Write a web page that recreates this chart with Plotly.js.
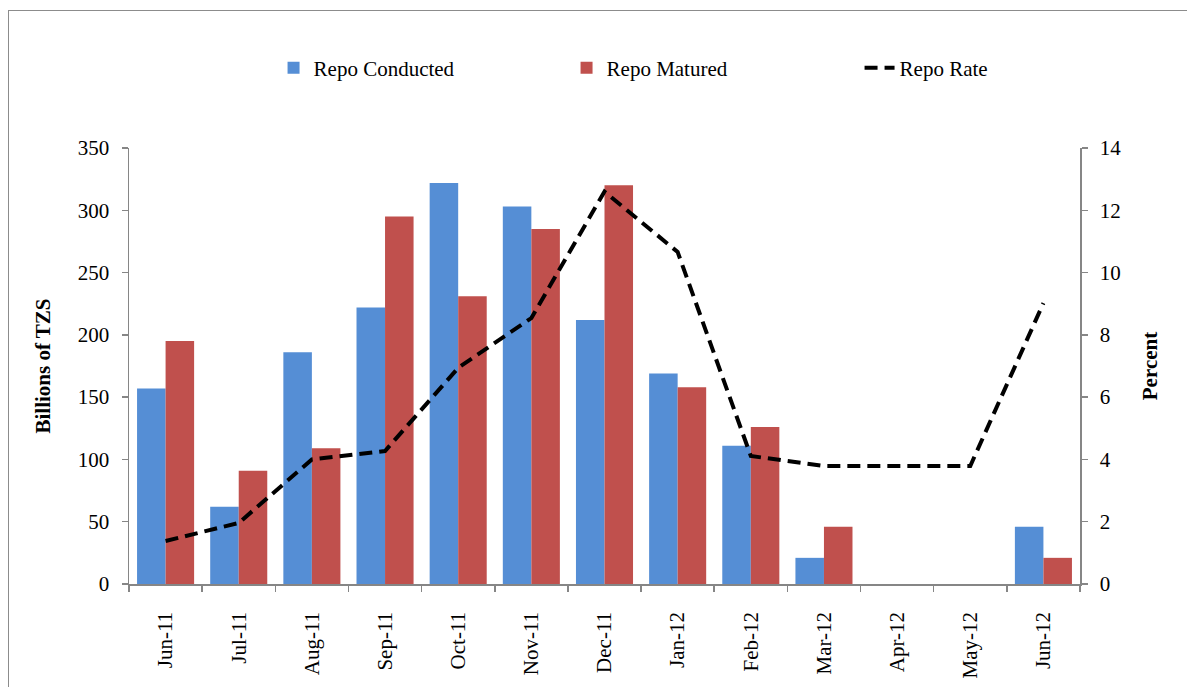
<!DOCTYPE html>
<html>
<head>
<meta charset="utf-8">
<script src="https://cdn.plot.ly/plotly-3.0.1.min.js"></script>
<style>
html,body{margin:0;padding:0;background:#fff;}
#chart{position:absolute;left:0;top:0;width:1187px;height:687px;}
#frame{position:absolute;left:8px;top:10px;width:1200px;height:700px;border-left:1.5px solid #8c8c8c;border-top:1.5px solid #8c8c8c;pointer-events:none;}
</style>
</head>
<body>
<div id="chart"></div>
<div id="frame"></div>
<script>
const months = ["Jun-11","Jul-11","Aug-11","Sep-11","Oct-11","Nov-11","Dec-11","Jan-12","Feb-12","Mar-12","Apr-12","May-12","Jun-12"];
const repoConducted = [157, 62, 186, 222, 322, 303, 212, 169, 111, 21, 0, 0, 46];
const repoMatured   = [195, 91, 109, 295, 231, 285, 320, 158, 126, 46, 0, 0, 21];
const repoRate      = [1.38, 1.96, 4.0, 4.27, 6.94, 8.54, 12.6, 10.66, 4.11, 3.79, 3.79, 3.79, 9.02];

const fontFam = "Liberation Serif, Times New Roman, serif";
const fs = 21;

const traces = [
  {type:"bar", name:"Repo Conducted", x:months, y:repoConducted,
   marker:{color:"#558ED5"}, hoverinfo:"skip"},
  {type:"bar", name:"Repo Matured", x:months, y:repoMatured,
   marker:{color:"#C0504D"}, hoverinfo:"skip"},
  {type:"scatter", mode:"lines", name:"Repo Rate", x:months, y:repoRate, yaxis:"y2",
   line:{color:"#000", width:4, dash:"13px,7px"}, hoverinfo:"skip"}
];

const layout = {
  width:1187, height:687,
  margin:{l:129, r:107, t:148, b:103},
  paper_bgcolor:"#fff", plot_bgcolor:"#fff",
  font:{family:fontFam, size:fs, color:"#000"},
  barmode:"group", bargap:0.22, bargroupgap:0,
  showlegend:true,
  legend:{orientation:"h", x:0.152, xanchor:"left", y:0.901, yref:"container", yanchor:"middle",
    font:{family:fontFam, size:fs, color:"#000"},
    entrywidth:248, entrywidthmode:"pixels", traceorder:"normal",
    bgcolor:"rgba(0,0,0,0)"},
  xaxis:{type:"category", showline:true, linecolor:"#868686", linewidth:1.5,
    ticks:"outside", tickson:"boundaries", ticklen:6, tickcolor:"#868686", tickwidth:1.5,
    tickangle:-90, tickfont:{family:fontFam, size:fs}, ticklabelstandoff:18,
    showgrid:false, zeroline:false, automargin:false},
  yaxis:{range:[0,350], dtick:50, showline:true, linecolor:"#868686", linewidth:1.5,
    ticks:"outside", ticklen:6, tickcolor:"#868686", tickwidth:1.5, showgrid:false, zeroline:false,
    tickfont:{family:fontFam, size:fs}, ticklabelstandoff:8, automargin:false,
    title:{text:"<b>Billions of TZS</b>", font:{family:fontFam, size:fs}, standoff:21}},
  yaxis2:{range:[0,14], dtick:2, overlaying:"y", side:"right", showline:true,
    linecolor:"#868686", linewidth:1.5, ticks:"outside", ticklen:6, tickcolor:"#868686", tickwidth:1.5,
    showgrid:false, zeroline:false, tickfont:{family:fontFam, size:fs}, ticklabelstandoff:8,
    automargin:false,
    title:{text:"<b>Percent</b>", font:{family:fontFam, size:fs}, standoff:22}}
};

Plotly.newPlot("chart", traces, layout, {displayModeBar:false, staticPlot:true});
</script>
</body>
</html>
